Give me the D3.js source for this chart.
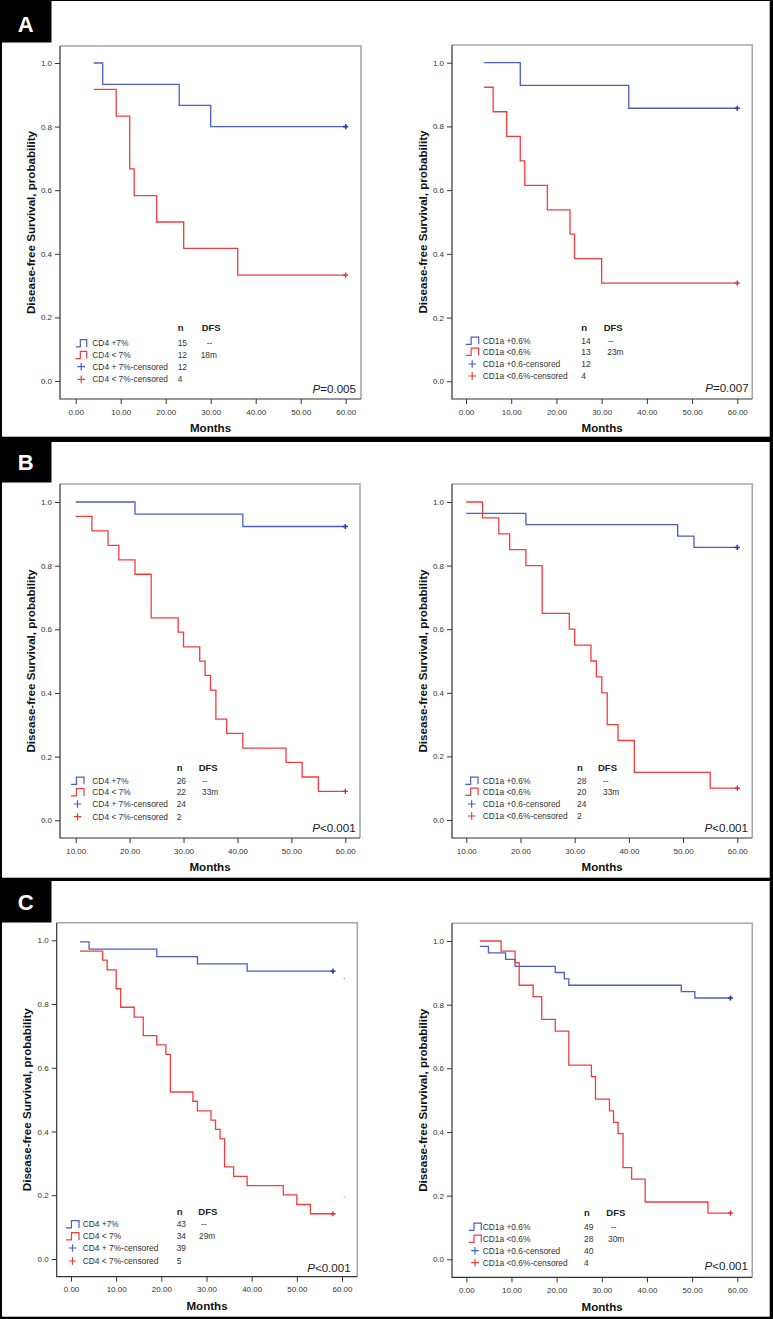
<!DOCTYPE html>
<html lang="en">
<head>
    <meta charset="UTF-8">
    <title>Disease-free survival curves</title>
    <script src="https://d3js.org/d3.v7.min.js"></script>
    <style>
        body { margin: 0; background: #fff; }
        svg { display: block; font-family: "Liberation Sans", Arial, sans-serif; }
        .tick text { font-size: 8px; fill: #333; }
        .tick line { stroke: #333; }
        .axis-title { font-weight: bold; fill: #111; }
        .legend text { font-size: 8.4px; fill: #333; }
        .legend .head { font-size: 9.5px; font-weight: bold; fill: #222; }
    </style>
</head>
<body>
<svg width="773" height="1319"></svg>
<script>
    // survival steps [month, probability]
    const aCd4High = [[4, 1], [6, 0.933], [23, 0.867], [30, 0.8], [60, 0.8]];
    const aCd4Low = [[4, 0.917], [9, 0.833], [12, 0.667], [13, 0.583], [18, 0.5], [24, 0.417], [36, 0.333], [60, 0.333]];
    const aCd1aHigh = [[4, 1], [12, 0.929], [36, 0.857], [60, 0.857]];
    const aCd1aLow = [[4, 0.923], [6, 0.846], [9, 0.769], [12, 0.692], [13, 0.615], [18, 0.538], [23, 0.462], [24, 0.385], [30, 0.308], [60, 0.308]];

    const bCd4High = [[10, 1], [21, 0.962], [41, 0.923], [60, 0.923]];
    const bCd4Low = [[10, 0.955], [13, 0.909], [16, 0.864], [18, 0.818], [21, 0.773], [24, 0.636], [29, 0.591], [30, 0.545], [33, 0.5], [34, 0.455], [35, 0.409], [36, 0.318], [38, 0.273], [41, 0.227], [49, 0.182], [52, 0.136], [55, 0.091], [60, 0.091]];
    const bCd1aHigh = [[10, 0.964], [21, 0.929], [49, 0.893], [52, 0.857], [60, 0.857]];
    const bCd1aLow = [[10, 1], [13, 0.95], [16, 0.9], [18, 0.85], [21, 0.8], [24, 0.65], [29, 0.6], [30, 0.55], [33, 0.5], [34, 0.45], [35, 0.4], [36, 0.3], [38, 0.25], [41, 0.15], [55, 0.1], [60, 0.1]];

    const cCd4High = [[2, 0.995], [4, 0.972], [19, 0.949], [28, 0.926], [39, 0.903], [58, 0.903]];
    const cCd4Low = [[2, 0.966], [7, 0.938], [8, 0.907], [10, 0.848], [11, 0.79], [14, 0.759], [16, 0.701], [19, 0.672], [21, 0.642], [22, 0.524], [27, 0.495], [28, 0.465], [31, 0.436], [32, 0.407], [33, 0.377], [34, 0.289], [36, 0.259], [39, 0.23], [47, 0.201], [50, 0.171], [53, 0.142], [58, 0.142]];
    const cCd4Stray = [[60.5, 0.88, "high"], [60.5, 0.195, "low"]];
    const cCd1aHigh = [[3, 0.983], [4.9, 0.963], [8.7, 0.942], [10.8, 0.92], [19.7, 0.901], [21.7, 0.881], [22.7, 0.861], [47.6, 0.841], [50.6, 0.821], [58.5, 0.821]];
    const cCd1aLow = [[3, 1], [7.7, 0.968], [10.8, 0.932], [11.7, 0.861], [14.8, 0.825], [16.7, 0.754], [19.7, 0.717], [22.7, 0.61], [27.7, 0.574], [28.6, 0.503], [31.7, 0.466], [32.6, 0.43], [33.6, 0.395], [34.7, 0.288], [36.6, 0.252], [39.6, 0.18], [53.5, 0.145], [58.5, 0.145]];

    const cd4Labels = ["CD4 +7%", "CD4 < 7%", "CD4 + 7%-censored", "CD4 < 7%-censored"];
    const cd1aLabels = ["CD1a +0.6%", "CD1a <0.6%", "CD1a +0.6-censored", "CD1a <0.6%-censored"];
    const ticksFrom0 = [0, 10, 20, 30, 40, 50, 60];
    const ticksFrom10 = [10, 20, 30, 40, 50, 60];
    const yTicks = [0, 0.2, 0.4, 0.6, 0.8, 1.0];
    const panelLetters = ["A", "B", "C"];

    const blue = "#4a5ec6", red = "#f43c3c";
    const blueMark = "#2b3b9e", redMark = "#e52a2a";

    const svg = d3.select("svg");

    // black background, white panels
    svg.append("rect").attr("width", 773).attr("height", 1319).attr("fill", "#000");
    const panels = [
        {y0: 1, y1: 436.7, letterY: 24.5, boxY: 0},
        {y0: 442, y1: 877.7, letterY: 462, boxY: 440},
        {y0: 881, y1: 1316.7, letterY: 902, boxY: 880}
    ];
    panels.forEach((p, i) => {
        svg.append("rect").attr("x", 2).attr("y", p.y0)
            .attr("width", 767.7).attr("height", p.y1 - p.y0).attr("fill", "#fff");
        svg.append("rect").attr("x", 0).attr("y", p.boxY)
            .attr("width", 51.5).attr("height", 42.5).attr("fill", "#000");
        svg.append("text").attr("x", 25.8).attr("y", p.letterY)
            .attr("text-anchor", "middle").attr("dominant-baseline", "central")
            .attr("font-size", 22).attr("font-weight", "bold").attr("fill", "#fff")
            .text(panelLetters[i]);
    });

    const plots = [
        {frame: [60, 46, 361, 399], xr: [75.7, 345.7], yr: [381, 63], xd: [0, 60], xt: ticksFrom0,
            high: aCd4High, low: aCd4Low, labels: cd4Labels, n: [15, 12, 12, 4], dfs: ["--", "18m"], p: "=0.005",
            pPos: [356, 387.7],
            leg: {hy: 327.3, rows: [343.3, 355, 366.7, 379.3], ix: [75.7, 86.7], tx: 92.3, nx: 177.7, dx: 201.7, dv: [206.7, 200.7]}},
        {frame: [452, 45, 752.3, 399], xr: [466, 737.3], yr: [381.3, 62.7], xd: [0, 60], xt: ticksFrom0,
            high: aCd1aHigh, low: aCd1aLow, labels: cd1aLabels, n: [14, 13, 12, 4], dfs: ["--", "23m"], p: "=0.007",
            pPos: [748.7, 386.7],
            leg: {hy: 327.7, rows: [340.7, 351.7, 364, 376], ix: [465.7, 478.7], tx: 482.7, nx: 581.3, dx: 603.7, dv: [608, 607.3]}},
        {frame: [60, 484, 360, 838], xr: [75.7, 345.3], yr: [820.3, 502], xd: [10, 60], xt: ticksFrom10,
            high: bCd4High, low: bCd4Low, labels: cd4Labels, n: [26, 22, 24, 2], dfs: ["--", "33m"], p: "<0.001",
            pPos: [355.7, 826.7],
            leg: {hy: 767.7, rows: [780.7, 792.3, 804, 816.7], ix: [71, 84], tx: 92.3, nx: 176.7, dx: 198.7, dv: [202, 202]}},
        {frame: [452, 484, 752.3, 838], xr: [466.3, 737.3], yr: [820, 502], xd: [10, 60], xt: ticksFrom10,
            high: bCd1aHigh, low: bCd1aLow, labels: cd1aLabels, n: [28, 20, 24, 2], dfs: ["--", "33m"], p: "<0.001",
            pPos: [748, 826.7],
            leg: {hy: 767, rows: [780.7, 791.7, 804, 816], ix: [465.3, 478], tx: 482.7, nx: 577, dx: 598, dv: [603, 603]}},
        {frame: [56.7, 922.7, 357.3, 1276.7], xr: [71, 342], yr: [1259, 940.3], xd: [0, 60], xt: ticksFrom0,
            high: cCd4High, low: cCd4Low, stray: cCd4Stray, labels: cd4Labels, n: [43, 34, 39, 5], dfs: ["--", "29m"], p: "<0.001",
            pPos: [350.7, 1266.7],
            leg: {hy: 1211, rows: [1224.3, 1236.3, 1248, 1261], ix: [66, 79], tx: 82.7, nx: 176.7, dx: 198.3, dv: [201, 199]}},
        {frame: [452, 923.3, 752.3, 1277.3], xr: [466.3, 737.3], yr: [1259.3, 941], xd: [0, 60], xt: ticksFrom0,
            high: cCd1aHigh, low: cCd1aLow, labels: cd1aLabels, n: [49, 28, 40, 4], dfs: ["--", "30m"], p: "<0.001",
            pPos: [748, 1265],
            leg: {hy: 1212.7, rows: [1226.7, 1238.7, 1250.7, 1262.7], ix: [468.7, 481.3], tx: 482.7, nx: 584, dx: 606.3, dv: [610.7, 608]}}
    ];

    function plus(g, x, y, r, color, w) {
        g.append("path")
            .attr("d", `M${x - r},${y}H${x + r}M${x},${y - r}V${y + r}`)
            .attr("stroke", color).attr("stroke-width", w).attr("fill", "none");
    }

    plots.forEach(cfg => {
        const [fl, ft, fr, fb] = cfg.frame;
        const g = svg.append("g");
        const x = d3.scaleLinear().domain(cfg.xd).range(cfg.xr);
        const y = d3.scaleLinear().domain([0, 1]).range(cfg.yr);

        // frame
        g.append("path").attr("d", `M${fl},${ft}H${fr}V${fb}`)
            .attr("fill", "none").attr("stroke", "#a8a8a8").attr("stroke-width", 1.6);
        g.append("path").attr("d", `M${fl},${ft}V${fb}H${fr}`)
            .attr("fill", "none").attr("stroke", "#333").attr("stroke-width", 1.2);

        const xAxis = g.append("g").attr("transform", `translate(0,${fb})`)
            .call(d3.axisBottom(x).tickValues(cfg.xt).tickFormat(d3.format(".2f")).tickSize(5));
        xAxis.select(".domain").remove();
        xAxis.selectAll("text").attr("y", 12.8).attr("dy", "0.35em");

        const yAxis = g.append("g").attr("transform", `translate(${fl},0)`)
            .call(d3.axisLeft(y).tickValues(yTicks).tickFormat(d3.format(".1f")).tickSize(5).tickPadding(3));
        yAxis.select(".domain").remove();

        g.append("text").attr("class", "axis-title")
            .attr("x", (fl + fr) / 2).attr("y", fb + 28.8)
            .attr("text-anchor", "middle").attr("dominant-baseline", "central")
            .attr("font-size", 11.6).text("Months");
        g.append("text").attr("class", "axis-title")
            .attr("transform", `translate(${fl - 30},${(ft + fb) / 2}) rotate(-90)`)
            .attr("text-anchor", "middle").attr("dominant-baseline", "central")
            .attr("font-size", 11.6).text("Disease-free Survival, probability");

        const line = d3.line().x(d => x(d[0])).y(d => y(d[1])).curve(d3.curveStepAfter);
        g.append("path").datum(cfg.high).attr("d", line)
            .attr("fill", "none").attr("stroke", blue).attr("stroke-width", 1.3);
        g.append("path").datum(cfg.low).attr("d", line)
            .attr("fill", "none").attr("stroke", red).attr("stroke-width", 1.3);

        const hEnd = cfg.high[cfg.high.length - 1], lEnd = cfg.low[cfg.low.length - 1];
        plus(g, x(hEnd[0]), y(hEnd[1]), 2.6, blueMark, 1.6);
        plus(g, x(lEnd[0]), y(lEnd[1]), 2.6, redMark, 1.4);

        if (cfg.stray) {
            cfg.stray.forEach(d => {
                g.append("circle").attr("cx", x(d[0])).attr("cy", y(d[1])).attr("r", 0.7)
                    .attr("fill", d[2] === "high" ? blue : red).attr("opacity", 0.7);
            });
        }

        // P value
        const pt = g.append("text").attr("x", cfg.pPos[0]).attr("y", cfg.pPos[1])
            .attr("text-anchor", "end").attr("dominant-baseline", "central")
            .attr("font-size", 11.6).attr("fill", "#222");
        pt.append("tspan").attr("font-style", "italic").text("P");
        pt.append("tspan").text(cfg.p);

        // legend
        const L = cfg.leg;
        const lg = g.append("g").attr("class", "legend");
        lg.append("text").attr("class", "head").attr("x", L.nx).attr("y", L.hy)
            .attr("dominant-baseline", "central").text("n");
        lg.append("text").attr("class", "head").attr("x", L.dx).attr("y", L.hy)
            .attr("dominant-baseline", "central").text("DFS");
        const [ia, ib] = L.ix, iw = ib - ia;
        [blue, red].forEach((c, i) => {
            const ry = L.rows[i];
            lg.append("path")
                .attr("d", `M${ia},${ry + 3.6}H${ia + iw * 0.42}V${ry - 3.6}H${ib}V${ry + 3.6}`)
                .attr("fill", "none").attr("stroke", c).attr("stroke-width", 1.2);
        });
        plus(lg, (ia + ib) / 2, L.rows[2], 3.8, blue, 1.2);
        plus(lg, (ia + ib) / 2, L.rows[3], 3.8, red, 1.2);
        cfg.labels.forEach((t, i) => {
            lg.append("text").attr("x", L.tx).attr("y", L.rows[i])
                .attr("dominant-baseline", "central").text(t);
            lg.append("text").attr("x", L.nx).attr("y", L.rows[i])
                .attr("dominant-baseline", "central").text(cfg.n[i]);
        });
        cfg.dfs.forEach((t, i) => {
            lg.append("text").attr("x", L.dv[i]).attr("y", L.rows[i])
                .attr("dominant-baseline", "central").text(t);
        });
    });
</script>
</body>
</html>
